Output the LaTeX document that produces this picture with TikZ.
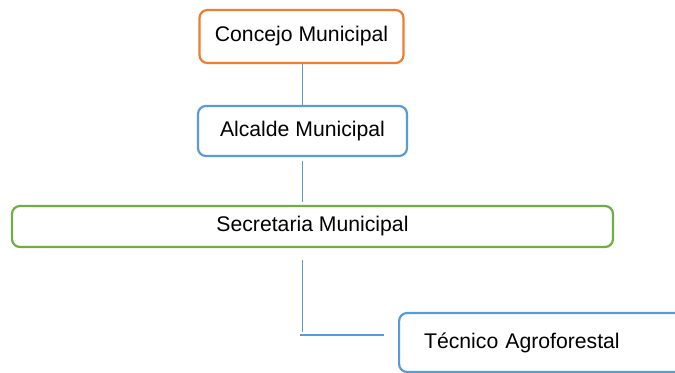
\documentclass[tikz,border=0pt]{standalone}
\usepackage{fontspec}
\setmainfont{Liberation Sans}
\usepackage{tikz}
\usetikzlibrary{positioning,calc}
\definecolor{boxorange}{HTML}{ED7D31}
\definecolor{boxblue}{HTML}{5B9BD5}
\definecolor{boxgreen}{HTML}{70AD47}
\tikzset{%
  orgbox/.style = {%
    rectangle,
    rounded corners=4pt,
    line width=1.1pt,
    fill=white,
    inner sep=0pt,
    font=\fontsize{10.6}{12.7}\selectfont}}

\begin{document}
\begin{tikzpicture}[x=0.5pt, y=-0.5pt,
conn/.style={draw=boxblue, line width=0.6pt},
]

\clip (0,0) rectangle (675,373);

\node[orgbox, draw=boxorange, minimum width=102pt, minimum height=26.5pt] (concejo)    at (301.5,36.5) {Concejo Municipal};
\node[orgbox, draw=boxblue,   minimum width=104.5pt, minimum height=25pt] (alcalde)    at (302.5,131)  {Alcalde Municipal};
\node[orgbox, draw=boxgreen,  minimum width=300.5pt, minimum height=20.5pt] (secretaria) at (312.5,226.5) {Secretaria Municipal};
\node[orgbox, draw=boxblue, anchor=west, inner xsep=12.5pt, text width=126pt, align=left,
      minimum height=29.5pt] (tecnico) at (398,342.5) {Técnico Agroforestal};

\coordinate (elbow) at (302.5,335);

\draw[conn] (concejo.south -| alcalde.north) -- (alcalde.north);
\draw[conn, shorten <=2pt, shorten >=1.5pt] (alcalde.south) -- (alcalde.south |- secretaria.north);
\draw[conn, shorten <=6pt, shorten >=1.5pt] (secretaria.south -| elbow) -- (elbow);
\draw[conn, shorten <=-1.5pt, shorten >=7pt] (elbow) -- (elbow -| tecnico.west);

\end{tikzpicture}
\end{document}
